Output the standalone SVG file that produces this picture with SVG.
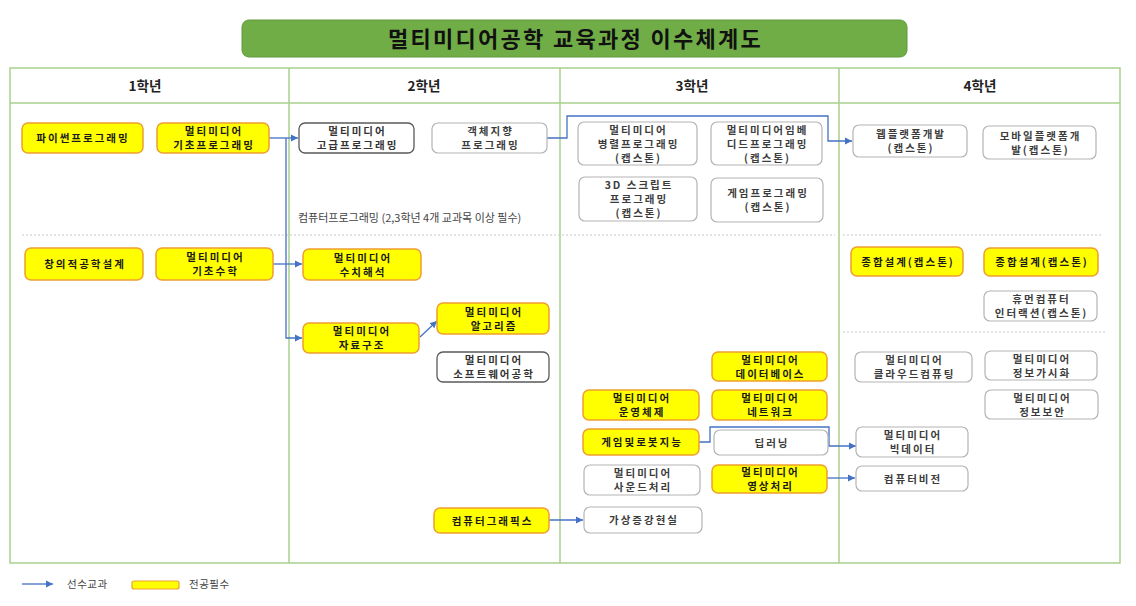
<svg xmlns="http://www.w3.org/2000/svg" width="1136" height="606" viewBox="0 0 1136 606">
<defs>
<marker id="ah" markerUnits="userSpaceOnUse" markerWidth="8" markerHeight="8" refX="7" refY="4" orient="auto"><path d="M0,0.5 L7,4 L0,7.5 Z" fill="#4472c4"/></marker>
<style>
.n text{font-family:"Noto Sans CJK KR","Noto Sans",sans-serif;font-size:10.5px;font-weight:bold;letter-spacing:2px;text-anchor:middle}
.y rect{fill:#ffff00;stroke:#ee9f2f;stroke-width:1.5}
.y text{fill:#1a1a1a}
.w rect{fill:#fff;stroke:#b4b4b4;stroke-width:1.2}
.w text{fill:#3c3c3c}
.d rect{fill:#fff;stroke:#5a5a5a;stroke-width:1.3}
.d text{fill:#333}
.grid{fill:none;stroke:#a9d08e;stroke-width:1.5}
.dot{stroke:#c8c8c8;stroke-width:1;stroke-dasharray:2 2}
.hdr{font-family:"Noto Sans CJK KR",sans-serif;font-size:13.5px;font-weight:bold;fill:#222;text-anchor:middle}
.con path{fill:none;stroke:#4472c4;stroke-width:1.3}
.lg{font-family:"Noto Sans CJK KR",sans-serif;font-size:10.5px;fill:#444;letter-spacing:0.5px}
</style>
</defs>
<rect width="1136" height="606" fill="#fff"/>
<g id="title">
<rect x="242" y="20" width="665" height="37" rx="7" fill="#70ad47" stroke="#5f9a3c" stroke-width="1"/>
<text x="575.5" y="46.5" font-family="'Noto Sans CJK KR',sans-serif" font-size="22" font-weight="bold" fill="#111" letter-spacing="2.3" text-anchor="middle">멀티미디어공학 교육과정 이수체계도</text>
</g>
<g id="table">
<rect class="grid" x="10" y="68" width="1110" height="495"/>
<line class="grid" x1="10" y1="103" x2="1120" y2="103"/>
<line class="grid" x1="289" y1="68" x2="289" y2="563"/>
<line class="grid" x1="560" y1="68" x2="560" y2="563"/>
<line class="grid" x1="839" y1="68" x2="839" y2="563"/>
<line class="dot" x1="22" y1="235" x2="835" y2="235"/>
<line class="dot" x1="843" y1="235" x2="1102" y2="235"/>
<line class="dot" x1="843" y1="332" x2="1105" y2="332"/>
<text class="hdr" x="145" y="91">1학년</text>
<text class="hdr" x="424" y="91">2학년</text>
<text class="hdr" x="692" y="91">3학년</text>
<text class="hdr" x="980" y="91">4학년</text>
<text x="298" y="222" font-family="'Noto Sans CJK KR',sans-serif" font-size="11" fill="#444">컴퓨터프로그래밍 (2,3학년 4개 교과목 이상 필수)</text>
</g>
<g class="con" id="connectors">
<path d="M269,138 H298" marker-end="url(#ah)"/>
<path d="M286,138 V338 H302" marker-end="url(#ah)"/>
<path d="M273,264 H302" marker-end="url(#ah)"/>
<path d="M420,337 L437,321" marker-end="url(#ah)"/>
<path d="M547,138 H567 V116 H828 V141 H852" marker-end="url(#ah)"/>
<path d="M699,442 H710 V427 H829 V446 H856" marker-end="url(#ah)"/>
<path d="M827,478 H855" marker-end="url(#ah)"/>
<path d="M549,520 H583" marker-end="url(#ah)"/>
</g>
<g id="n1" class="n y"><rect x="22" y="123" width="121" height="30" rx="6"/><text x="83" y="142">파이썬프로그래밍</text></g>
<g id="n2" class="n y"><rect x="157" y="123" width="112" height="30" rx="6"/><text><tspan x="214" y="135">멀티미디어</tspan><tspan x="214" y="149">기초프로그래밍</tspan></text></g>
<g id="n3" class="n y"><rect x="25" y="248" width="118" height="32" rx="6"/><text x="85" y="268">창의적공학설계</text></g>
<g id="n4" class="n y"><rect x="156" y="248" width="117" height="32" rx="6"/><text><tspan x="215.5" y="261">멀티미디어</tspan><tspan x="215.5" y="275">기초수학</tspan></text></g>
<g id="n5" class="n d"><rect x="299" y="123" width="115" height="30" rx="6"/><text><tspan x="357.5" y="135">멀티미디어</tspan><tspan x="357.5" y="149">고급프로그래밍</tspan></text></g>
<g id="n6" class="n w"><rect x="432" y="123" width="115" height="30" rx="6"/><text><tspan x="490.5" y="135">객체지향</tspan><tspan x="490.5" y="149">프로그래밍</tspan></text></g>
<g id="n7" class="n y"><rect x="303" y="249" width="118" height="31" rx="6"/><text><tspan x="363" y="261.5">멀티미디어</tspan><tspan x="363" y="275.5">수치해석</tspan></text></g>
<g id="n8" class="n y"><rect x="303" y="323" width="116" height="30" rx="6"/><text><tspan x="362" y="335">멀티미디어</tspan><tspan x="362" y="349">자료구조</tspan></text></g>
<g id="n9" class="n y"><rect x="437" y="303" width="112" height="31" rx="6"/><text><tspan x="494" y="315.5">멀티미디어</tspan><tspan x="494" y="329.5">알고리즘</tspan></text></g>
<g id="n10" class="n d"><rect x="437" y="352" width="112" height="30" rx="6"/><text><tspan x="494" y="364">멀티미디어</tspan><tspan x="494" y="378">소프트웨어공학</tspan></text></g>
<g id="n11" class="n y"><rect x="434" y="508" width="115" height="25" rx="6"/><text x="492.5" y="524.5">컴퓨터그래픽스</text></g>
<g id="n12" class="n w"><rect x="578" y="122" width="119" height="43" rx="6"/><text><tspan x="638.5" y="133.5">멀티미디어</tspan><tspan x="638.5" y="147.5">병렬프로그래밍</tspan><tspan x="638.5" y="161.5">(캡스톤)</tspan></text></g>
<g id="n13" class="n w"><rect x="711" y="122" width="111" height="43" rx="6"/><text><tspan x="767.5" y="133.5">멀티미디어임베</tspan><tspan x="767.5" y="147.5">디드프로그래밍</tspan><tspan x="767.5" y="161.5">(캡스톤)</tspan></text></g>
<g id="n14" class="n w"><rect x="579" y="177" width="118" height="44" rx="6"/><text><tspan x="639" y="189">3D 스크립트</tspan><tspan x="639" y="203">프로그래밍</tspan><tspan x="639" y="217">(캡스톤)</tspan></text></g>
<g id="n15" class="n w"><rect x="711" y="178" width="112" height="44" rx="6"/><text><tspan x="768" y="197">게임프로그래밍</tspan><tspan x="768" y="211">(캡스톤)</tspan></text></g>
<g id="n16" class="n y"><rect x="712" y="352" width="115" height="29" rx="6"/><text><tspan x="770.5" y="363.5">멀티미디어</tspan><tspan x="770.5" y="377.5">데이터베이스</tspan></text></g>
<g id="n17" class="n y"><rect x="583" y="390" width="116" height="30" rx="6"/><text><tspan x="642" y="402">멀티미디어</tspan><tspan x="642" y="416">운영체제</tspan></text></g>
<g id="n18" class="n y"><rect x="712" y="390" width="115" height="30" rx="6"/><text><tspan x="770.5" y="402">멀티미디어</tspan><tspan x="770.5" y="416">네트워크</tspan></text></g>
<g id="n19" class="n y"><rect x="583" y="429" width="116" height="26" rx="6"/><text x="642" y="446">게임및로봇지능</text></g>
<g id="n20" class="n w"><rect x="714" y="430" width="114" height="25" rx="6"/><text x="772" y="446.5">딥러닝</text></g>
<g id="n21" class="n w"><rect x="584" y="465" width="116" height="30" rx="6"/><text><tspan x="643" y="477">멀티미디어</tspan><tspan x="643" y="491">사운드처리</tspan></text></g>
<g id="n22" class="n y"><rect x="712" y="465" width="115" height="28" rx="6"/><text><tspan x="770.5" y="476">멀티미디어</tspan><tspan x="770.5" y="490">영상처리</tspan></text></g>
<g id="n23" class="n w"><rect x="584" y="507" width="118" height="26" rx="6"/><text x="644" y="524">가상증강현실</text></g>
<g id="n24" class="n w"><rect x="853" y="125" width="114" height="32" rx="6"/><text><tspan x="911" y="138">웹플랫폼개발</tspan><tspan x="911" y="152">(캡스톤)</tspan></text></g>
<g id="n25" class="n w"><rect x="983" y="126" width="113" height="33" rx="6"/><text><tspan x="1040.5" y="139.5">모바일플랫폼개</tspan><tspan x="1040.5" y="153.5">발(캡스톤)</tspan></text></g>
<g id="n26" class="n y"><rect x="851" y="247" width="112" height="29" rx="6"/><text x="908" y="265.5">종합설계(캡스톤)</text></g>
<g id="n27" class="n y"><rect x="984" y="248" width="114" height="28" rx="6"/><text x="1042" y="266">종합설계(캡스톤)</text></g>
<g id="n28" class="n w"><rect x="984" y="291" width="113" height="30" rx="6"/><text><tspan x="1041.5" y="303">휴먼컴퓨터</tspan><tspan x="1041.5" y="317">인터랙션(캡스톤)</tspan></text></g>
<g id="n29" class="n w"><rect x="855" y="352" width="117" height="30" rx="6"/><text><tspan x="914.5" y="364">멀티미디어</tspan><tspan x="914.5" y="378">클라우드컴퓨팅</tspan></text></g>
<g id="n30" class="n w"><rect x="985" y="351" width="112" height="29" rx="6"/><text><tspan x="1042" y="362.5">멀티미디어</tspan><tspan x="1042" y="376.5">정보가시화</tspan></text></g>
<g id="n31" class="n w"><rect x="985" y="390" width="113" height="29" rx="6"/><text><tspan x="1042.5" y="401.5">멀티미디어</tspan><tspan x="1042.5" y="415.5">정보보안</tspan></text></g>
<g id="n32" class="n w"><rect x="856" y="427" width="112" height="30" rx="6"/><text><tspan x="913" y="439">멀티미디어</tspan><tspan x="913" y="453">빅데이터</tspan></text></g>
<g id="n33" class="n w"><rect x="856" y="466" width="112" height="25" rx="6"/><text x="913" y="482.5">컴퓨터비전</text></g>
<g id="legend">
<g class="con"><path d="M22,584 H53" marker-end="url(#ah)"/></g>
<text class="lg" x="67" y="588">선수교과</text>
<rect x="132" y="581" width="47" height="8" rx="2" fill="#ffff00" stroke="#ee9f2f" stroke-width="1.2"/>
<text class="lg" x="189" y="588">전공필수</text>
</g>
</svg>
